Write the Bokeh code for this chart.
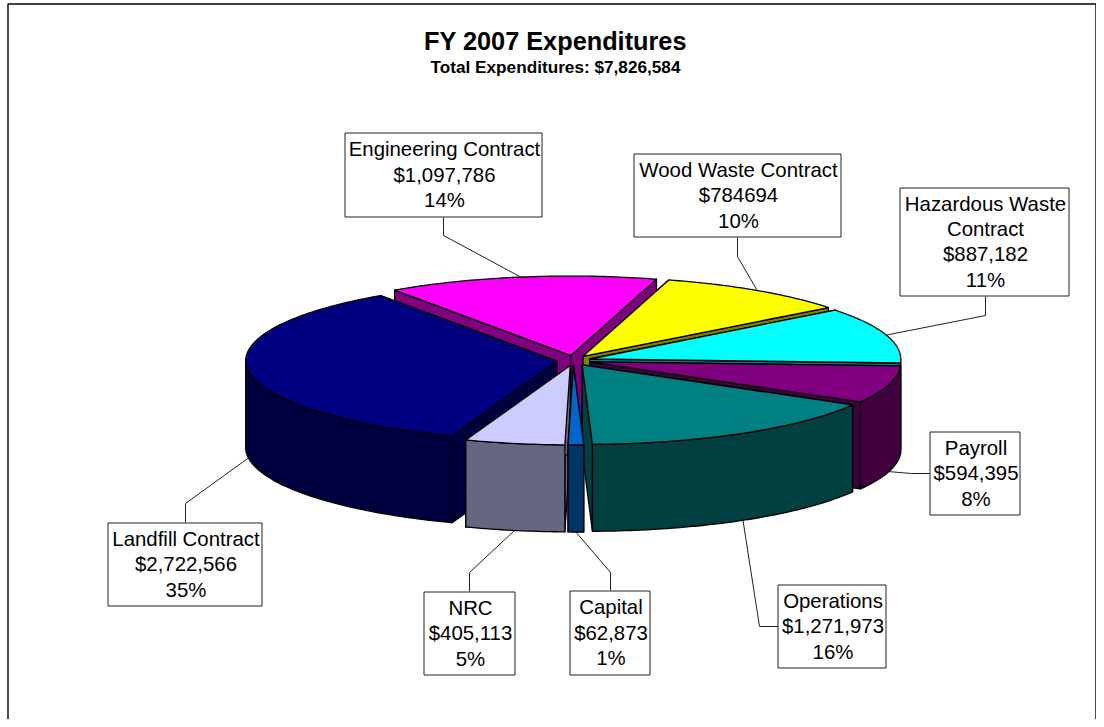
import math
from bokeh.plotting import figure
from bokeh.models import Range1d
from bokeh.core.properties import value
from bokeh.embed import file_html
from bokeh.resources import INLINE

# ---------- data ----------
categories = ["Wood Waste Contract", "Hazardous Waste Contract", "Payroll", "Operations",
              "Capital", "NRC", "Landfill Contract", "Engineering Contract"]
values = [784694, 887182, 594395, 1271973, 62873, 405113, 2722566, 1097786]
value_labels = ["$784694", "$887,182", "$594,395", "$1,271,973", "$62,873", "$405,113",
                "$2,722,566", "$1,097,786"]
percent_labels = ["10%", "11%", "8%", "16%", "1%", "5%", "35%", "14%"]
top_colors = ["#FFFF00", "#00FFFF", "#800080", "#008080", "#0066CC", "#CCCCFF", "#000080", "#FF00FF"]
wall_colors = ["#808000", "#008080", "#400040", "#004040", "#003366", "#666680", "#000040", "#800080"]
title = "FY 2007 Expenditures"
subtitle = "Total Expenditures: $7,826,584"

# ---------- layout ----------
START_DEG = 16.0
CX, CY = 573.0, 360.0
RX, RY = 311.0, 79.5
EX, EY = 17.0, 5.0
FRONT_SKEW = 3.5
DEPTH = 87.0
FONT = "Liberation Sans"
paint_order = [7, 0, 1, 2, 6, 3, 5, 4]
boxes = {
    0: (634, 153, 841, 237), 1: (900, 187, 1069, 296), 2: (930, 431, 1020, 515), 3: (778, 584, 886, 668),
    4: (570, 590, 650, 675), 5: (424, 591, 515, 675), 6: (108, 522, 262, 606), 7: (345, 132, 542, 217),
}
elbows = {
    0: ((737, 237), (737, 256)), 1: ((985, 296), (985, 315)), 2: ((930, 473), (911, 473)), 3: ((778, 626), (759, 626)),
    4: ((610, 590), (610, 572)), 5: ((469, 591), (469, 572)), 6: ((185, 522), (185, 503)), 7: ((443, 217), (443, 235)),
}
LINE_STEP = 25.4
TEXT_PX = 20.4

total = sum(values)
spans = []
a = START_DEG
for v in values:
    b = a + v / total * 360.0
    spans.append((a, b))
    a = b


def apex(i):
    m = math.radians(sum(spans[i]) / 2)
    return CX + EX * math.sin(m), CY - EY * math.cos(m)


def rim(i, deg, drop=0.0):
    ax, ay = apex(i)
    t = math.radians(deg)
    return ax + RX * math.sin(t) + FRONT_SKEW * max(0.0, -math.cos(t)), ay - RY * math.cos(t) + drop


def arc(i, d0, d1, drop=0.0):
    n = max(2, int(abs(d1 - d0)) + 2)
    return [rim(i, d0 + (d1 - d0) * k / (n - 1), drop) for k in range(n)]


xs, ys, fills = [], [], []


def add(points, color):
    xs.append([q[0] for q in points])
    ys.append([q[1] for q in points])
    fills.append(color)


for i in paint_order:
    a0, a1 = spans[i]
    ax, ay = apex(i)
    for d in (a0, a1):
        c = rim(i, d)
        add([(ax, ay), c, (c[0], c[1] + DEPTH), (ax, ay + DEPTH)], wall_colors[i])
    for lo, hi in ((90.0, 270.0), (450.0, 630.0)):
        w0, w1 = max(a0, lo), min(a1, hi)
        if w1 > w0:
            add(arc(i, w0, w1) + arc(i, w1, w0, DEPTH), wall_colors[i])
    add([(ax, ay)] + arc(i, a0, a1), top_colors[i])

p = figure(width=1096, height=719, output_backend="svg", toolbar_location=None,
           x_range=Range1d(0, 1096), y_range=Range1d(719, 0),
           x_axis_location=None, y_axis_location=None, min_border=0,
           outline_line_color=None)
p.grid.visible = False
p.background_fill_color = "white"

# chart frame: its right edge sits at the very edge of the figure
p.quad(left=[7.5], right=[1095.5], top=[3.5], bottom=[800], fill_color=None, line_color="black", line_width=1.4)

lx, ly = [], []
for i in range(len(values)):
    (x0, y0), (x1, y1) = elbows[i]
    mid = sum(spans[i]) / 2
    drop = DEPTH if 90 < mid < 270 else 0.0
    rx, ry = rim(i, mid, drop)
    lx.append([x0, x1, rx])
    ly.append([y0, y1, ry])
p.multi_line(lx, ly, line_color="#222222", line_width=1)

p.patches(xs, ys, fill_color=fills, line_color="black", line_width=1.3, line_join="round")

ids = list(range(len(values)))
p.quad(left=[boxes[i][0] - .5 for i in ids], right=[boxes[i][2] - .5 for i in ids],
       top=[boxes[i][1] + .5 for i in ids], bottom=[boxes[i][3] - .5 for i in ids],
       fill_color="white", line_color="#222222", line_width=1)

tx, ty, tt = [], [], []
for i in ids:
    name = categories[i]
    if i == 1:
        rows = ["Hazardous Waste", "Contract"]
    else:
        rows = [name]
    rows = rows + [value_labels[i], percent_labels[i]]
    l, t, r, b = boxes[i]
    h = (len(rows) - 1) * LINE_STEP
    first = (t + b) / 2 - h / 2 - .3
    for k, row in enumerate(rows):
        tx.append((l + r) / 2 + .5)
        ty.append(first + k * LINE_STEP)
        tt.append(row)
p.text(tx, ty, text=tt, text_font=value(FONT), text_font_size=f"{TEXT_PX}px",
       text_align="center", text_baseline="middle", text_color="black")

p.text([555], [40], text=[title], text_font=value(FONT), text_font_size="25.3px", text_font_style="bold",
       text_align="center", text_baseline="middle", text_color="black")
p.text([555], [66], text=[subtitle], text_font=value(FONT), text_font_size="17.2px", text_font_style="bold",
       text_align="center", text_baseline="middle", text_color="black")

open("out.html", "w").write(file_html(p, INLINE))
